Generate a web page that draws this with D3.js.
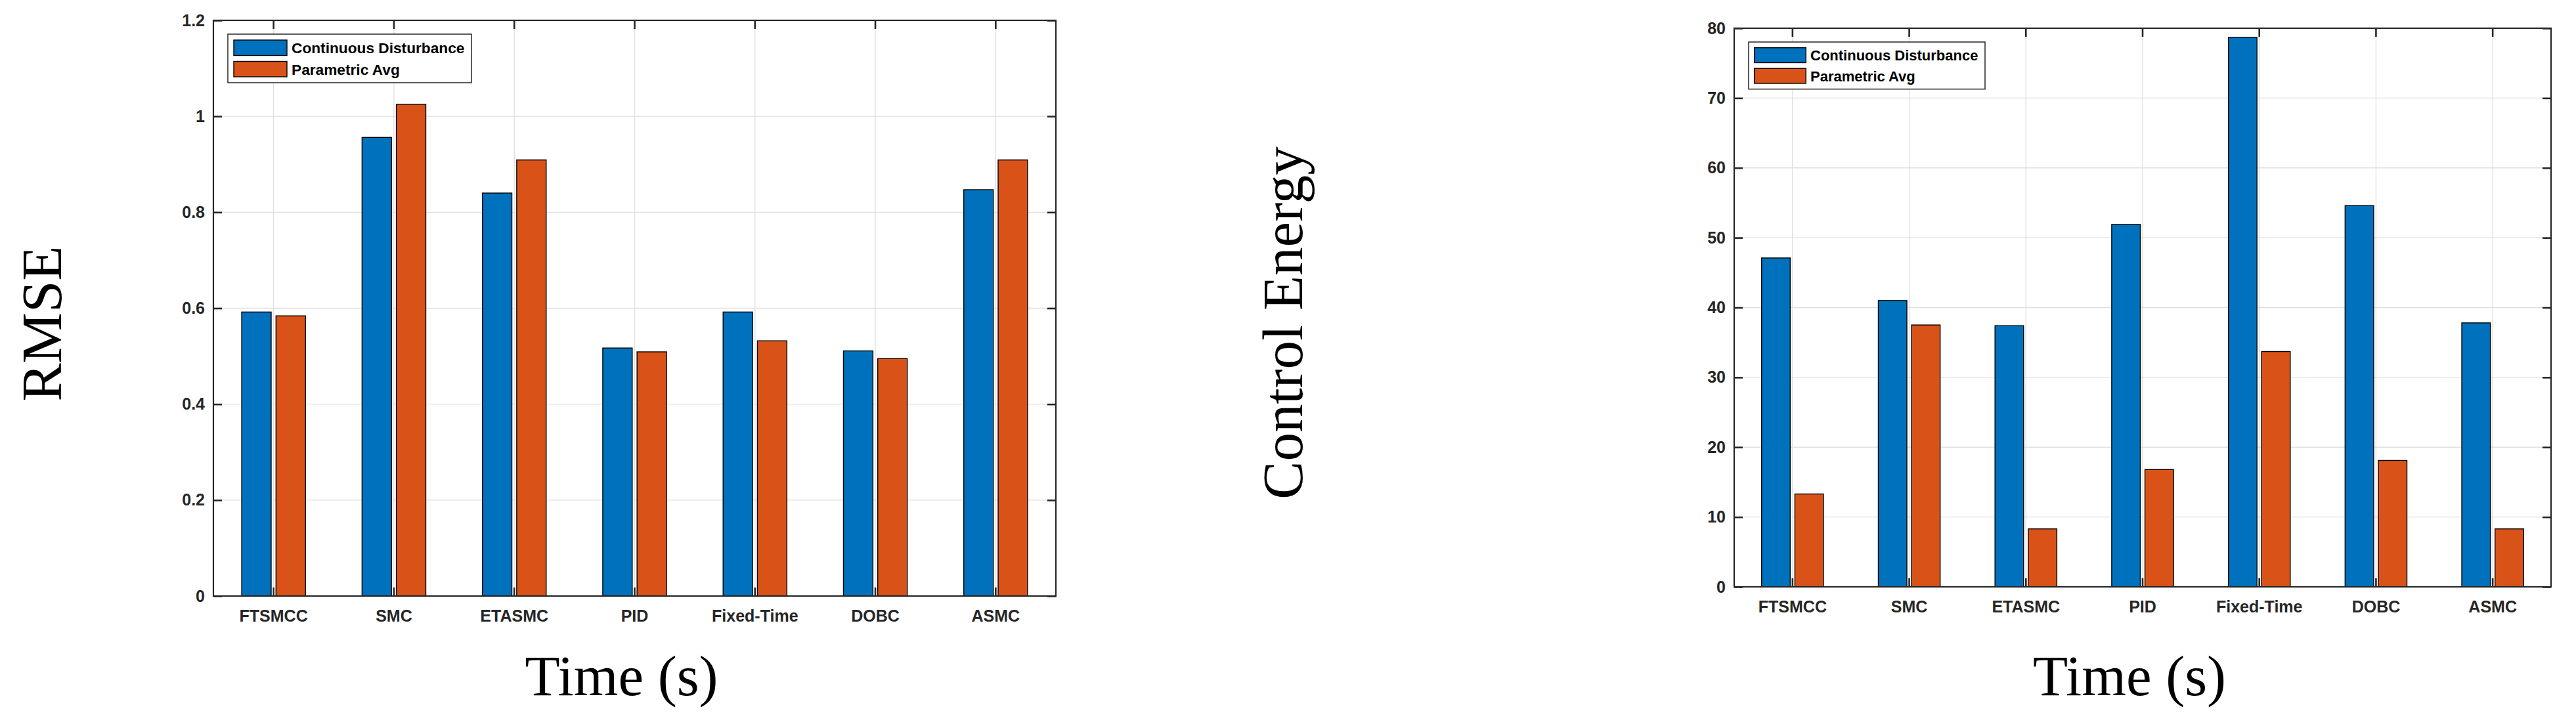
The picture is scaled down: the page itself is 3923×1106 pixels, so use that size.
<!DOCTYPE html>
<html lang="en">
  <head>
    <meta charset="UTF-8" />
    <title>RMSE and Control Energy by Controller</title>
    <style>
      body {
        margin: 0;
        background: #fff;
      }
      svg {
        display: block;
      }
      .tick text {
        font-family: 'Liberation Sans', Arial, sans-serif;
        font-weight: bold;
        fill: #262626;
      }
    </style>
  </head>
  <body>
    <svg width="3923" height="1106"></svg>
    <script src="https://cdn.jsdelivr.net/npm/d3@7"></script>
    <script>
      // data
      const categories = ['FTSMCC', 'SMC', 'ETASMC', 'PID', 'Fixed-Time', 'DOBC', 'ASMC'];
      const seriesNames = ['Continuous Disturbance', 'Parametric Avg'];
      const seriesColors = ['#0072BD', '#D95319'];

      const rmseContinuous = [0.592, 0.956, 0.840, 0.517, 0.592, 0.511, 0.847];
      const rmseParametric = [0.584, 1.025, 0.909, 0.509, 0.532, 0.495, 0.909];
      const rmseTicks = [0, 0.2, 0.4, 0.6, 0.8, 1, 1.2];

      const energyContinuous = [47.1, 41.0, 37.4, 51.9, 78.7, 54.6, 37.8];
      const energyParametric = [13.3, 37.5, 8.3, 16.8, 33.7, 18.1, 8.3];
      const energyTicks = [0, 10, 20, 30, 40, 50, 60, 70, 80];

      const svg = d3.select('svg');
      const axisColor = '#262626';
      const gridColor = '#dfdfdf';
      const tickLen = 13;

      function drawPanel(opt) {
        const { left, right, top, bottom } = opt.box;
        const g = svg.append('g');

        const x = d3.scaleBand().domain(categories).range([left, right]).padding(0);
        const y = d3
          .scaleLinear()
          .domain([opt.ticks[0], opt.ticks[opt.ticks.length - 1]])
          .range([bottom, top]);

        const barW = x.bandwidth() * 0.245;
        const gap = x.bandwidth() * 0.04;
        const xInner = d3
          .scaleBand()
          .domain(seriesNames)
          .range([-(barW + gap / 2), barW + gap / 2])
          .paddingInner(gap / (barW + gap));

        // grid
        const grid = g.append('g').attr('stroke', gridColor).attr('stroke-width', 1.3);
        grid
          .selectAll('line.h')
          .data(opt.ticks)
          .join('line')
          .attr('x1', left)
          .attr('x2', right)
          .attr('y1', (d) => y(d))
          .attr('y2', (d) => y(d));
        grid
          .selectAll('line.v')
          .data(categories)
          .join('line')
          .attr('x1', (d) => x(d) + x.bandwidth() / 2)
          .attr('x2', (d) => x(d) + x.bandwidth() / 2)
          .attr('y1', top)
          .attr('y2', bottom);

        // bars
        const rows = categories.map((c, i) => ({ cat: c, vals: opt.series.map((s) => s[i]) }));
        g.append('g')
          .selectAll('g')
          .data(rows)
          .join('g')
          .attr('transform', (d) => `translate(${x(d.cat) + x.bandwidth() / 2},0)`)
          .selectAll('rect')
          .data((d) => d.vals.map((v, j) => ({ v, j })))
          .join('rect')
          .attr('x', (d) => xInner(seriesNames[d.j]))
          .attr('width', xInner.bandwidth())
          .attr('y', (d) => y(d.v))
          .attr('height', (d) => y(0) - y(d.v))
          .attr('fill', (d) => seriesColors[d.j])
          .attr('stroke', '#000')
          .attr('stroke-width', 1.4);

        // axes (ticks pointing inward on all four sides)
        const fmt = (d) => String(+d.toFixed(2));
        const styleAxis = (sel, fs) => {
          sel.select('.domain').remove();
          sel.selectAll('.tick line').attr('stroke', axisColor).attr('stroke-width', 2.6);
          sel.selectAll('.tick text').attr('font-size', fs);
        };
        g.append('g')
          .attr('transform', `translate(${left},0)`)
          .call(d3.axisLeft(y).tickValues(opt.ticks).tickFormat(fmt).tickSizeInner(-tickLen).tickSizeOuter(0).tickPadding(13))
          .call(styleAxis, opt.tickFont);
        g.append('g')
          .attr('transform', `translate(${right},0)`)
          .call(d3.axisRight(y).tickValues(opt.ticks).tickFormat('').tickSizeInner(-tickLen).tickSizeOuter(0))
          .call(styleAxis, opt.tickFont);
        g.append('g')
          .attr('transform', `translate(0,${bottom})`)
          .call(d3.axisBottom(x).tickSizeInner(-tickLen).tickSizeOuter(0).tickPadding(21))
          .call(styleAxis, opt.tickFont);
        g.append('g')
          .attr('transform', `translate(0,${top})`)
          .call(d3.axisTop(x).tickFormat('').tickSizeInner(-tickLen).tickSizeOuter(0))
          .call(styleAxis, opt.tickFont);

        g.append('rect')
          .attr('x', left)
          .attr('y', top)
          .attr('width', right - left)
          .attr('height', bottom - top)
          .attr('fill', 'none')
          .attr('stroke', axisColor)
          .attr('stroke-width', 2.2);

        // legend
        const k = opt.legendFont / 22.7;
        const lg = g.append('g').attr('transform', `translate(${left + 22},${top + 21})`);
        lg.append('rect')
          .attr('width', opt.legendW)
          .attr('height', 74 * k)
          .attr('fill', '#fff')
          .attr('stroke', axisColor)
          .attr('stroke-width', 1.5);
        const item = lg
          .selectAll('g')
          .data(seriesNames)
          .join('g')
          .attr('transform', (d, i) => `translate(${9 * k},${(9 + i * 32.5) * k})`);
        item
          .append('rect')
          .attr('width', 81 * k)
          .attr('height', 23.5 * k)
          .attr('fill', (d, i) => seriesColors[i])
          .attr('stroke', '#000')
          .attr('stroke-width', 1.4);
        item
          .append('text')
          .attr('x', 88 * k)
          .attr('y', 20 * k)
          .attr('font-family', "'Liberation Sans', Arial, sans-serif")
          .attr('font-weight', 'bold')
          .attr('font-size', opt.legendFont)
          .attr('fill', '#000')
          .text((d) => d);

        // axis titles
        const serif = "'Liberation Serif', 'Times New Roman', serif";
        svg.append('text')
          .attr('transform', `translate(${opt.ylabelX},${opt.ylabelY}) rotate(-90)`)
          .attr('text-anchor', 'middle')
          .attr('font-family', serif)
          .attr('font-size', 87)
          .attr('fill', '#000')
          .text(opt.ylabel);
        svg.append('text')
          .attr('x', (left + right) / 2 - 20)
          .attr('y', 1059)
          .attr('text-anchor', 'middle')
          .attr('font-family', serif)
          .attr('font-size', 87)
          .attr('fill', '#000')
          .text('Time (s)');
      }

      drawPanel({
        box: { left: 325, right: 1608, top: 31, bottom: 908 },
        series: [rmseContinuous, rmseParametric],
        ticks: rmseTicks,
        tickFont: 25,
        legendFont: 22.7,
        legendW: 371,
        ylabel: 'RMSE',
        ylabelX: 93,
        ylabelY: 493,
      });

      drawPanel({
        box: { left: 2641, right: 3885, top: 43, bottom: 894 },
        series: [energyContinuous, energyParametric],
        ticks: energyTicks,
        tickFont: 25,
        legendFont: 22,
        legendW: 360,
        ylabel: 'Control Energy',
        ylabelX: 1983,
        ylabelY: 492,
      });
    </script>
  </body>
</html>
